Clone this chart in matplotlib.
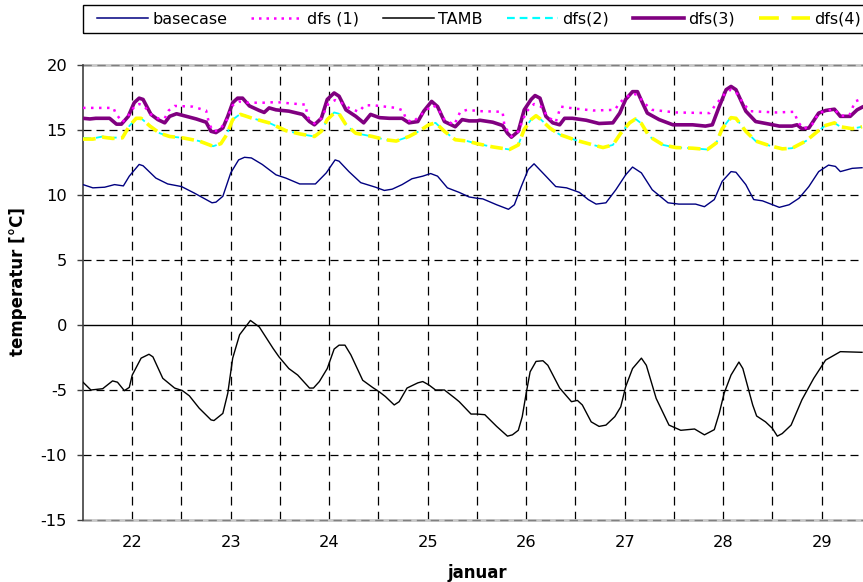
import matplotlib
matplotlib.use('Agg')
import matplotlib.pyplot as plt
from matplotlib.lines import Line2D
from matplotlib.patches import Rectangle

plt.rcParams['font.family'] = ['DejaVu Sans']
plt.rcParams['axes.unicode_minus'] = False

# Udetemperatur (TAMB)
tamb_dag = [21.5, 21.58, 21.7, 21.8, 21.85, 21.92, 21.97, 22.0, 22.09, 22.17, 22.21, 22.31, 22.43, 22.51,
            22.58, 22.68, 22.8, 22.83, 22.92, 22.97, 23.02, 23.09, 23.2, 23.29, 23.43, 23.49, 23.59, 23.68,
            23.8, 23.84, 23.9, 23.98, 24.05, 24.1, 24.16, 24.22, 24.34, 24.44, 24.51, 24.57, 24.66, 24.71,
            24.79, 24.9, 24.95, 25.01, 25.08, 25.17, 25.28, 25.32, 25.44, 25.5, 25.58, 25.7, 25.81, 25.86,
            25.92, 25.96, 26.0, 26.04, 26.1, 26.17, 26.22, 26.34, 26.46, 26.52, 26.57, 26.66, 26.74, 26.81,
            26.9, 26.96, 27.01, 27.08, 27.17, 27.22, 27.32, 27.45, 27.57, 27.71, 27.81, 27.91, 27.96, 28.01,
            28.08, 28.16, 28.2, 28.25, 28.3, 28.34, 28.43, 28.5, 28.55, 28.6, 28.69, 28.8, 28.92, 29.04,
            29.19, 29.41]
tamb = [-4.4, -5.0, -4.9, -4.3, -4.4, -5.05, -4.8, -3.85, -2.55, -2.25, -2.45, -4.1, -4.85, -5.05,
        -5.45, -6.4, -7.3, -7.35, -6.8, -5.25, -2.55, -0.75, 0.35, -0.15, -1.8, -2.45, -3.35, -3.85,
        -4.85, -4.85, -4.35, -3.35, -1.85, -1.55, -1.55, -2.3, -4.25, -4.8, -5.15, -5.5, -6.15, -5.9,
        -4.85, -4.45, -4.35, -4.6, -5.0, -5.0, -5.65, -5.9, -6.85, -6.85, -6.9, -7.8, -8.55, -8.45,
        -8.1, -7.05, -5.25, -3.6, -2.8, -2.75, -3.1, -4.85, -5.9, -5.8, -6.15, -7.45, -7.8, -7.7,
        -7.05, -6.3, -4.75, -3.35, -2.55, -3.1, -5.65, -7.7, -8.1, -8.0, -8.45, -8.05, -6.8, -5.25,
        -3.85, -2.85, -3.35, -4.75, -6.15, -7.0, -7.45, -7.95, -8.55, -8.35, -7.7, -5.75, -4.1, -2.7,
        -2.05, -2.1]

# basecase
base_dag = [21.5, 21.6, 21.72, 21.82, 21.91, 21.97, 22.07, 22.11, 22.24, 22.36, 22.5, 22.63, 22.75, 22.81,
            22.85, 22.92, 23.0, 23.08, 23.14, 23.21, 23.32, 23.46, 23.56, 23.7, 23.86, 23.97, 24.06, 24.1,
            24.2, 24.32, 24.47, 24.56, 24.64, 24.74, 24.84, 24.95, 25.03, 25.1, 25.2, 25.32, 25.42, 25.5,
            25.56, 25.7, 25.82, 25.88, 25.95, 26.02, 26.08, 26.2, 26.3, 26.41, 26.54, 26.63, 26.71, 26.81,
            26.91, 27.01, 27.08, 27.17, 27.28, 27.44, 27.55, 27.72, 27.81, 27.91, 27.99, 28.08, 28.13, 28.23,
            28.31, 28.4, 28.57, 28.67, 28.77, 28.87, 28.97, 29.07, 29.14, 29.19, 29.31, 29.41]
base = [10.8, 10.55, 10.6, 10.8, 10.7, 11.45, 12.35, 12.25, 11.3, 10.85, 10.65, 10.15, 9.65, 9.4,
        9.45, 9.9, 11.7, 12.7, 12.9, 12.85, 12.35, 11.55, 11.3, 10.85, 10.85, 11.7, 12.7, 12.6,
        11.8, 10.95, 10.6, 10.35, 10.45, 10.8, 11.25, 11.45, 11.65, 11.45, 10.55, 10.2, 9.85, 9.75,
        9.7, 9.25, 8.9, 9.25, 10.65, 11.95, 12.4, 11.45, 10.65, 10.55, 10.2, 9.65, 9.3, 9.4,
        10.4, 11.55, 12.15, 11.7, 10.4, 9.4, 9.3, 9.3, 9.1, 9.65, 11.05, 11.8, 11.75, 10.8,
        9.65, 9.55, 9.05, 9.25, 9.75, 10.65, 11.8, 12.3, 12.2, 11.8, 12.05, 12.1]

# dfs (1)
dfs1_dag = [21.5, 21.6, 21.7, 21.81, 21.83, 21.9, 21.97, 22.03, 22.07, 22.12, 22.19, 22.26, 22.33, 22.37,
            22.43, 22.61, 22.75, 22.78, 22.82, 22.88, 22.95, 23.02, 23.08, 23.14, 23.36, 23.46, 23.6, 23.76,
            23.78, 23.85, 23.92, 23.99, 24.06, 24.12, 24.2, 24.3, 24.36, 24.45, 24.68, 24.75, 24.78, 24.85,
            24.92, 25.0, 25.05, 25.1, 25.17, 25.27, 25.33, 25.4, 25.53, 25.76, 25.78, 25.85, 25.92, 26.0,
            26.08, 26.15, 26.22, 26.3, 26.35, 26.49, 26.68, 26.9, 26.95, 27.01, 27.08, 27.13, 27.2, 27.28,
            27.52, 27.86, 27.93, 28.03, 28.08, 28.14, 28.2, 28.27, 28.54, 28.72, 28.76, 28.82, 28.9, 28.97,
            29.06, 29.13, 29.19, 29.28, 29.34, 29.41]
dfs1 = [16.7, 16.7, 16.7, 16.7, 16.3, 15.6, 16.2, 16.9, 17.0, 16.85, 16.2, 15.9, 15.9, 16.5,
        16.85, 16.8, 16.5, 15.5, 14.9, 15.0, 15.6, 16.9, 17.2, 17.1, 17.1, 17.15, 17.05, 16.95,
        16.0, 15.5, 15.9, 17.0, 17.3, 17.1, 16.7, 16.4, 16.9, 16.9, 16.7, 16.5, 15.8, 15.6,
        16.1, 16.6, 16.9, 16.7, 15.8, 15.4, 16.4, 16.55, 16.45, 16.4, 15.3, 14.5, 14.9, 16.4,
        17.0, 16.8, 16.0, 15.6, 16.8, 16.65, 16.5, 16.55, 17.1, 17.5, 17.8, 17.7, 17.05, 16.55,
        16.35, 16.3, 17.0, 17.9, 18.1, 17.8, 17.1, 16.45, 16.35, 16.4, 15.6, 15.1, 15.4, 16.3,
        16.5, 16.6, 16.1, 16.1, 17.2, 17.4]

# dfs(2) og dfs(4) ligger næsten oven i hinanden
dfs2_dag = [21.5, 21.6, 21.7, 21.8, 21.9, 21.97, 22.04, 22.09, 22.18, 22.28, 22.38, 22.51, 22.68, 22.82,
            22.9, 22.96, 23.02, 23.1, 23.22, 23.39, 23.56, 23.7, 23.85, 23.92, 23.98, 24.05, 24.1, 24.17,
            24.27, 24.44, 24.57, 24.68, 24.81, 24.91, 25.01, 25.08, 25.17, 25.28, 25.4, 25.5, 25.66, 25.83,
            25.92, 25.98, 26.05, 26.1, 26.15, 26.24, 26.34, 26.51, 26.68, 26.78, 26.88, 26.96, 27.05, 27.11,
            27.17, 27.25, 27.39, 27.52, 27.69, 27.84, 27.93, 27.99, 28.08, 28.13, 28.23, 28.33, 28.47, 28.6,
            28.7, 28.84, 28.96, 29.04, 29.13, 29.19, 29.31, 29.41]
dfs2 = [14.4, 14.35, 14.5, 14.4, 14.45, 15.3, 15.9, 15.9, 15.3, 14.75, 14.5, 14.4, 14.15, 13.75,
        13.95, 14.65, 15.8, 16.25, 15.9, 15.55, 14.95, 14.7, 14.5, 14.9, 15.8, 16.35, 16.25, 15.4,
        14.75, 14.5, 14.25, 14.15, 14.5, 14.9, 15.4, 15.55, 14.9, 14.25, 14.15, 13.95, 13.7, 13.5,
        13.85, 15.05, 15.8, 16.15, 15.8, 15.15, 14.65, 14.2, 13.85, 13.65, 13.85, 14.75, 15.55, 15.85,
        15.5, 14.5, 13.85, 13.65, 13.6, 13.5, 14.0, 15.1, 16.0, 15.9, 14.9, 14.15, 13.8, 13.55,
        13.6, 14.15, 14.9, 15.35, 15.55, 15.25, 15.1, 15.25]
dfs4 = [14.3, 14.3, 14.45, 14.35, 14.4, 15.3, 15.9, 15.9, 15.3, 14.75, 14.5, 14.4, 14.15, 13.75,
        13.95, 14.65, 15.8, 16.2, 15.9, 15.55, 14.95, 14.7, 14.5, 14.9, 15.8, 16.3, 16.25, 15.4,
        14.75, 14.5, 14.25, 14.15, 14.5, 14.9, 15.4, 15.55, 14.9, 14.25, 14.15, 13.95, 13.7, 13.5,
        13.85, 15.05, 15.8, 16.1, 15.8, 15.15, 14.65, 14.2, 13.85, 13.65, 13.85, 14.75, 15.55, 15.85,
        15.5, 14.5, 13.85, 13.65, 13.6, 13.5, 14.0, 15.1, 15.95, 15.9, 14.9, 14.15, 13.8, 13.55,
        13.6, 14.15, 14.9, 15.35, 15.55, 15.25, 15.1, 15.25]

# dfs(3)
dfs3_dag = [21.5, 21.57, 21.63, 21.77, 21.84, 21.89, 21.96, 22.02, 22.07, 22.11, 22.19, 22.26, 22.33, 22.38,
            22.45, 22.55, 22.65, 22.75, 22.8, 22.85, 22.92, 22.97, 23.02, 23.07, 23.12, 23.19, 23.29, 23.34,
            23.39, 23.46, 23.59, 23.73, 23.8, 23.85, 23.92, 23.98, 24.05, 24.1, 24.17, 24.27, 24.35, 24.42,
            24.51, 24.61, 24.74, 24.81, 24.9, 24.96, 25.04, 25.1, 25.17, 25.28, 25.35, 25.42, 25.5, 25.53,
            25.66, 25.76, 25.81, 25.85, 25.92, 25.98, 26.05, 26.09, 26.14, 26.2, 26.27, 26.34, 26.39, 26.47,
            26.61, 26.74, 26.88, 26.95, 27.01, 27.08, 27.13, 27.18, 27.23, 27.35, 27.49, 27.69, 27.82, 27.89,
            27.96, 28.03, 28.08, 28.13, 28.23, 28.33, 28.47, 28.57, 28.7, 28.75, 28.8, 28.87, 28.97, 29.04,
            29.13, 29.19, 29.29, 29.36, 29.41]
dfs3 = [15.9, 15.85, 15.9, 15.9, 15.45, 15.45, 16.05, 17.1, 17.45, 17.35, 16.2, 15.8, 15.55, 16.05,
        16.25, 16.05, 15.85, 15.6, 14.9, 14.8, 15.15, 16.05, 17.1, 17.45, 17.45, 16.85, 16.5, 16.35,
        16.7, 16.55, 16.45, 16.2, 15.65, 15.4, 15.9, 17.35, 17.85, 17.6, 16.55, 16.05, 15.55, 16.2,
        15.95, 15.9, 15.9, 15.55, 15.65, 16.45, 17.2, 16.8, 15.65, 15.25, 15.8, 15.7, 15.7, 15.75,
        15.6, 15.35, 14.75, 14.45, 14.9, 16.55, 17.35, 17.65, 17.45, 16.05, 15.55, 15.4, 15.9, 15.9,
        15.75, 15.5, 15.55, 16.3, 17.35, 17.95, 17.95, 17.1, 16.3, 15.8, 15.4, 15.4, 15.3, 15.4,
        16.8, 18.1, 18.35, 18.1, 16.45, 15.65, 15.45, 15.3, 15.3, 15.4, 15.1, 15.15, 16.3, 16.5,
        16.6, 16.05, 16.05, 16.55, 16.75]

dag_ticks = [22, 23, 24, 25, 26, 27, 28, 29]

W, H = 863, 582
fig = plt.figure(figsize=(W / 100, H / 100), dpi=100)
ax = fig.add_axes([83 / W, 1 - 520 / H, 780 / W, 455 / H])

ax.set_xlim(21.5, 29.42)
ax.set_ylim(-15, 20)

# gitter: stiplet hver halve dag og hver 5 grader
for x in [d + h for d in range(21, 30) for h in (0.0, 0.5)]:
    if 21.5 < x < 29.42:
        ax.axvline(x, color='black', lw=0.9, ls=(0, (7, 5)), zorder=1)
for y in [15, 10, 5, -5, -10]:
    ax.axhline(y, color='black', lw=0.9, ls=(0, (6.4, 4)), zorder=1)
ax.axhline(0, color='black', lw=1.0, zorder=1)
for y in [20, -15]:
    ax.axhline(y, color='#c8c8c8', lw=2.0, zorder=1, clip_on=False)
    ax.axhline(y, color='#808080', lw=1.0, ls=(0, (6, 4)), zorder=1, clip_on=False)

ax.plot(tamb_dag, tamb, color='black', lw=1.0, zorder=3)
ax.plot(base_dag, base, color='#000080', lw=1.0, zorder=3)
ax.plot(dfs2_dag, dfs2, color='#00FFFF', lw=1.3, ls=(0, (4.4, 2.8)), zorder=3)
ax.plot(dfs2_dag, dfs4, color='#FFFF00', lw=2.6, ls=(0, (3.5, 1.8)), zorder=4)
ax.plot(dfs3_dag, dfs3, color='#800080', lw=2.6, zorder=5)
ax.plot(dfs1_dag, dfs1, color='#FF00FF', lw=1.8, ls=(0, (1, 2.2)), zorder=6)

for side in ['top', 'right', 'bottom']:
    ax.spines[side].set_visible(False)
ax.spines['left'].set_color('#404040')
ax.spines['left'].set_linewidth(1.2)

ax.set_yticks([20, 15, 10, 5, 0, -5, -10, -15])
ax.set_xticks(dag_ticks)
ax.set_xticklabels([str(d) for d in dag_ticks])
ax.tick_params(axis='y', direction='out', length=4.5, width=1, color='#404040', labelsize=11.7, pad=7)
ax.tick_params(axis='x', length=0, labelsize=11.7, pad=11)

ax.set_ylabel('temperatur [°C]', fontsize=12, fontweight='bold')
ax.yaxis.set_label_coords(-0.072, 0.525)
ax.set_xlabel('januar', fontsize=12, fontweight='bold')
ax.xaxis.set_label_coords(0.505, -0.097)

# forklaring i en ramme over plottet
fig.add_artist(Rectangle((83 / W, 1 - 33 / H), 800 / W, 28 / H, transform=fig.transFigure,
                         fill=False, edgecolor='black', lw=1.0, clip_on=False))
handles = [
    Line2D([], [], color='#000080', lw=1.1),
    Line2D([], [], color='#FF00FF', lw=1.8, ls=(0, (1, 2))),
    Line2D([], [], color='black', lw=1.1),
    Line2D([], [], color='#00FFFF', lw=1.6, ls=(0, (3.5, 2.2))),
    Line2D([], [], color='#800080', lw=2.6),
    Line2D([], [], color='#FFFF00', lw=2.6, ls=(0, (5.5, 3.5))),
]
labels = ['basecase', 'dfs (1)', 'TAMB', 'dfs(2)', 'dfs(3)', 'dfs(4)']
fig.legend(handles, labels, loc='center left', bbox_to_anchor=(97 / W, 1 - 19 / H), ncol=6,
           fontsize=11.5, frameon=False, handlelength=3.2, handletextpad=0.27,
           columnspacing=1.5, borderpad=0, borderaxespad=0)

fig.savefig('out.png', dpi=100)
